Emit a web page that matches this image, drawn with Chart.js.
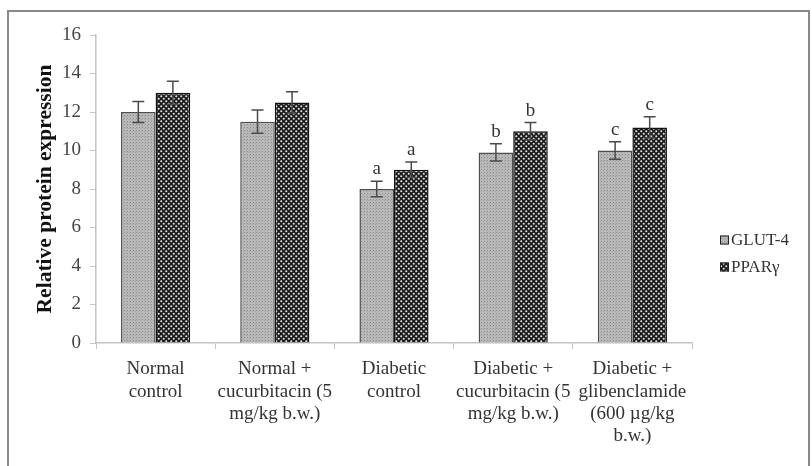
<!DOCTYPE html>
<html>
<head>
<meta charset="utf-8">
<script src="https://cdn.jsdelivr.net/npm/chart.js@4/dist/chart.umd.min.js"></script>
<style>
  html, body { margin: 0; padding: 0; background: #fff; }
  #wrap { width: 812px; height: 466px; position: relative; }
</style>
</head>
<body>
<div id="wrap"><canvas id="c" width="812" height="466"></canvas></div>
<script>
// Groups on the x axis (multi-line labels)
const categories = [
  ['Normal', 'control'],
  ['Normal +', 'cucurbitacin (5', 'mg/kg b.w.)'],
  ['Diabetic', 'control'],
  ['Diabetic +', 'cucurbitacin (5', 'mg/kg b.w.)'],
  ['Diabetic +', 'glibenclamide', '(600 µg/kg', 'b.w.)']
];
const seriesNames = ['GLUT-4', 'PPARγ'];
const glutValues = [12, 11.5, 8, 9.9, 10];
const glutErrors = [0.55, 0.6, 0.4, 0.45, 0.45];
const pparValues = [13, 12.5, 9, 11, 11.2];
const pparErrors = [0.6, 0.55, 0.4, 0.45, 0.55];
// significance letters shown above each bar
const glutLetters = ['', '', 'a', 'b', 'c'];
const pparLetters = ['', '', 'a', 'b', 'c'];
const yTicks = [0, 2, 4, 6, 8, 10, 12, 14, 16];

const SERIF = '"Liberation Serif", "Times New Roman", serif';

function finePattern() {
  const c = document.createElement('canvas');
  c.width = 3; c.height = 3;
  const g = c.getContext('2d');
  g.fillStyle = '#b9b9b9'; g.fillRect(0, 0, 3, 3);
  g.fillStyle = '#8e8e8e'; g.fillRect(1, 1, 1, 1);
  g.fillStyle = '#a4a4a4'; g.fillRect(0, 2, 1, 1);
  return g.createPattern(c, 'repeat');
}
function dotPattern() {
  const c = document.createElement('canvas');
  c.width = 5; c.height = 5;
  const g = c.getContext('2d');
  g.fillStyle = '#1c1c1c'; g.fillRect(0, 0, 5, 5);
  g.fillStyle = '#e2e2e2';
  [[1.25, 1.25], [3.75, 3.75]].forEach(([x, y]) => {
    g.beginPath(); g.arc(x, y, 1.05, 0, Math.PI * 2); g.fill();
  });
  return g.createPattern(c, 'repeat');
}

const glutFill = finePattern();
const pparFill = dotPattern();

const frame = {
  id: 'frame',
  beforeDraw(chart) {
    const ctx = chart.ctx;
    ctx.save();
    ctx.fillStyle = '#fff';
    ctx.fillRect(0, 0, chart.width, chart.height);
    ctx.strokeStyle = '#8a8a8a';
    ctx.lineWidth = 2;
    ctx.strokeRect(8, 11, 801, 470);
    ctx.restore();
  }
};

const errorBars = {
  id: 'errorBars',
  afterDatasetsDraw(chart) {
    const ctx = chart.ctx;
    const ys = chart.scales.y;
    ctx.save();
    chart.data.datasets.forEach((ds, i) => {
      const meta = chart.getDatasetMeta(i);
      meta.data.forEach((bar, j) => {
        const v = ds.data[j], e = ds.errors[j];
        const top = ys.getPixelForValue(v + e);
        const bot = ys.getPixelForValue(v - e);
        ctx.strokeStyle = '#4a4a4a';
        ctx.lineWidth = 1.5;
        ctx.beginPath();
        ctx.moveTo(bar.x, bot); ctx.lineTo(bar.x, top);
        ctx.moveTo(bar.x - 6, top); ctx.lineTo(bar.x + 6, top);
        ctx.moveTo(bar.x - 6, bot); ctx.lineTo(bar.x + 6, bot);
        ctx.stroke();
        const letter = ds.letters[j];
        if (letter) {
          ctx.fillStyle = '#333';
          ctx.font = '19px ' + SERIF;
          ctx.textAlign = 'center';
          ctx.textBaseline = 'alphabetic';
          ctx.fillText(letter, bar.x, top - 7);
        }
      });
    });
    ctx.restore();
  }
};

const sideLegend = {
  id: 'sideLegend',
  afterDraw(chart) {
    const ctx = chart.ctx;
    ctx.save();
    const rows = [240, 267];
    chart.data.datasets.forEach((ds, i) => {
      const y = rows[i];
      ctx.fillStyle = ds.backgroundColor;
      ctx.fillRect(720, y - 4.5, 9, 9);
      ctx.strokeStyle = '#222';
      ctx.lineWidth = 1;
      ctx.strokeRect(720.5, y - 4, 8, 8);
      ctx.fillStyle = '#333';
      ctx.font = '17px ' + SERIF;
      ctx.textAlign = 'left';
      ctx.textBaseline = 'middle';
      ctx.fillText(ds.label, 731, y + 1);
    });
    ctx.restore();
  }
};

new Chart(document.getElementById('c'), {
  type: 'bar',
  data: {
    labels: categories,
    datasets: [
      {
        label: seriesNames[0], data: glutValues, errors: glutErrors, letters: glutLetters,
        backgroundColor: glutFill, borderColor: '#4d4d4d', borderWidth: 1.5,
        categoryPercentage: 0.58, barPercentage: 1
      },
      {
        label: seriesNames[1], data: pparValues, errors: pparErrors, letters: pparLetters,
        backgroundColor: pparFill, borderColor: '#111', borderWidth: 1.5,
        categoryPercentage: 0.58, barPercentage: 1
      }
    ]
  },
  options: {
    responsive: false,
    animation: false,
    devicePixelRatio: 1,
    layout: { padding: { left: 0, top: 35, right: 120, bottom: 0 } },
    plugins: { legend: { display: false }, tooltip: { enabled: false } },
    scales: {
      x: {
        grid: { drawOnChartArea: false, offset: true, tickLength: 6, color: '#c4c4c4' },
        border: { color: '#c4c4c4', width: 1.5 },
        ticks: {
          color: '#333', font: { family: SERIF, size: 19, lineHeight: 1.18 },
          padding: 9, maxRotation: 0, autoSkip: false
        },
        afterFit(scale) { scale.height = 123; }
      },
      y: {
        min: 0, max: 16,
        afterBuildTicks(scale) { scale.ticks = yTicks.map(v => ({ value: v })); },
        grid: { drawOnChartArea: false, tickLength: 6, color: '#c4c4c4' },
        border: { color: '#c4c4c4', width: 1.5 },
        ticks: { color: '#444', font: { family: SERIF, size: 19 }, padding: 9 },
        title: {
          display: true, text: 'Relative protein expression', color: '#111',
          font: { family: SERIF, size: 21.5, weight: 'bold' }, padding: { top: 33, bottom: 0 }
        },
        afterFit(scale) { scale.width = 96; }
      }
    }
  },
  plugins: [frame, errorBars, sideLegend]
});
</script>
</body>
</html>
